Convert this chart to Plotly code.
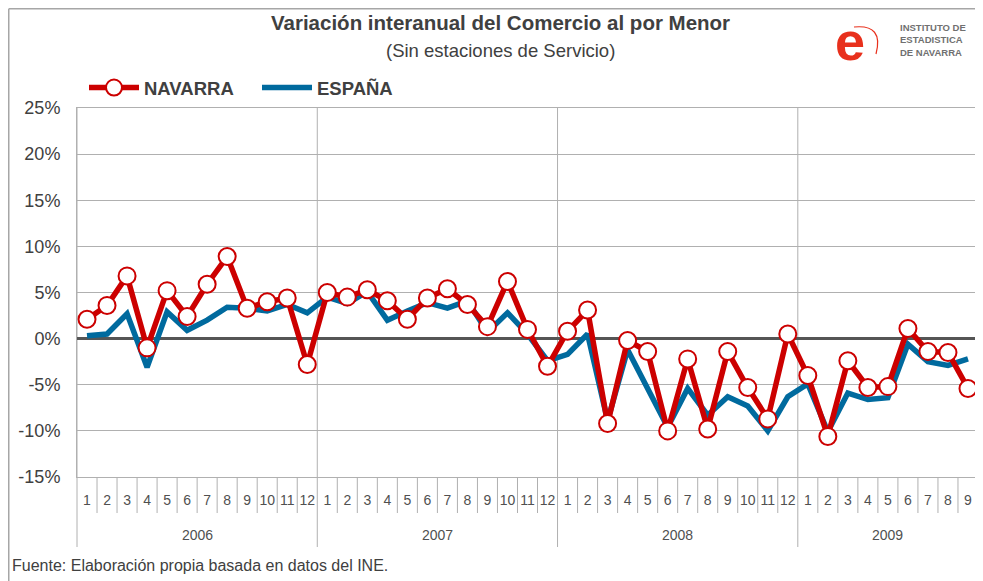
import plotly.graph_objects as go

YEARS = ["2006", "2007", "2008", "2009"]
MONTHS_PER_YEAR = [12, 12, 12, 9]

NAVARRA = [2.1, 3.6, 6.8, -1.0, 5.2, 2.4, 5.9, 8.9, 3.3, 4.0, 4.4, -2.8,
           5.0, 4.5, 5.3, 4.1, 2.1, 4.4, 5.4, 3.7, 1.3, 6.2, 1.0, -3.0,
           0.8, 3.1, -9.2, -0.2, -1.4, -10.0, -2.2, -9.8, -1.4, -5.3, -8.7, 0.5,
           -4.0, -10.6, -2.4, -5.3, -5.2, 1.1, -1.4, -1.5, -5.4]
ESPANA = [0.3, 0.5, 2.7, -3.1, 2.9, 0.9, 2.0, 3.4, 3.3, 3.0, 3.7, 2.8,
          4.5, 3.8, 5.1, 2.0, 3.0, 3.9, 3.3, 4.1, 0.7, 2.8, 0.5, -2.4,
          -1.7, 0.5, -8.9, -1.2, -5.4, -9.6, -5.4, -8.3, -6.3, -7.3, -10.0, -6.3,
          -4.9, -10.1, -5.9, -6.6, -6.4, -0.6, -2.5, -2.9, -2.2]
Y_TICKS = [-15, -10, -5, 0, 5, 10, 15, 20, 25]
Y_TICK_LABELS = ["-15%", "-10%", "-5%", "0%", "5%", "10%", "15%", "20%", "25%"]

TITLE = "Variación interanual del Comercio al por Menor"
SUBTITLE = "(Sin estaciones de Servicio)"
SOURCE = "Fuente: Elaboración propia basada en datos del INE."

categories, month_labels = [], []
for y, n in zip(YEARS, MONTHS_PER_YEAR):
    for m in range(1, n + 1):
        categories.append(f"{y}-{m}")
        month_labels.append(str(m))
n_total = len(categories)

# page offset (browser body margin)
OFF = 8
W, H = 983 - OFF, 581 - OFF
L, T = 77 - OFF, 108 - OFF
PR, PB = 978 - OFF, 477 - OFF
R, B = W - PR, H - PB
PW, PH = PR - L, PB - T


def px(x):
    return (x - OFF - L) / PW


def py(y):
    return (PB - (y - OFF)) / PH


FONT = "Liberation Sans, Arial, sans-serif"
TXT = "#404040"
GRID = "#b0b0b0"
LOGO_RED = "#e8301c"

fig = go.Figure()
fig.add_trace(go.Scatter(
    x=categories, y=ESPANA, name="ESPAÑA", mode="lines",
    line=dict(color="#006a9e", width=5.5)))
fig.add_trace(go.Scatter(
    x=categories, y=NAVARRA, name="NAVARRA", mode="lines+markers",
    line=dict(color="#cc0000", width=5.5),
    marker=dict(size=17, color="white", line=dict(color="#cc0000", width=2))))

shapes = []
annotations = []
bounds = [0]
for n in MONTHS_PER_YEAR:
    bounds.append(bounds[-1] + n)
# year dividers (through plot and label area)
for b in bounds:
    shapes.append(dict(type="line", xref="paper", yref="paper",
                       x0=b / n_total, x1=b / n_total, y0=py(547), y1=1,
                       line=dict(color=GRID, width=1), layer="below"))
# month separators
for i in range(1, n_total):
    if i in bounds:
        continue
    shapes.append(dict(type="line", xref="paper", yref="paper",
                       x0=i / n_total, x1=i / n_total, y0=0, y1=py(513),
                       line=dict(color=GRID, width=1)))
# year labels
for y, b0, b1 in zip(YEARS, bounds[:-1], bounds[1:]):
    annotations.append(dict(text=y, xref="paper", yref="paper",
                            x=(b0 + b1) / 2 / n_total, y=py(535),
                            showarrow=False, xanchor="center", yanchor="middle",
                            font=dict(family=FONT, size=14, color="#505050")))
# outer frame
shapes.append(dict(type="line", xref="paper", yref="paper",
                   x0=px(8.75), x1=px(8.75), y0=py(8.75), y1=py(600),
                   line=dict(color="#a6a6a6", width=1.5)))
shapes.append(dict(type="line", xref="paper", yref="paper",
                   x0=px(8.75), x1=px(1000), y0=py(8.75), y1=py(8.75),
                   line=dict(color="#a6a6a6", width=1.5)))
# logo swoosh
shapes.append(dict(type="path", xref="paper", yref="paper",
                   path=f"M {px(854)},{py(27)} Q {px(884)},{py(24)} {px(876)},{py(54)}",
                   line=dict(color=LOGO_RED, width=1.2)))

annotations += [
    dict(text="<b>" + TITLE + "</b>", xref="paper", yref="paper",
         x=px(500), y=py(23), showarrow=False, xanchor="center", yanchor="middle",
         font=dict(family=FONT, size=20.5, color=TXT)),
    dict(text=SUBTITLE, xref="paper", yref="paper",
         x=px(500), y=py(50), showarrow=False, xanchor="center", yanchor="middle",
         font=dict(family=FONT, size=18.5, color=TXT)),
    dict(text=SOURCE, xref="paper", yref="paper",
         x=px(10), y=py(565), showarrow=False, xanchor="left", yanchor="middle",
         font=dict(family=FONT, size=16, color=TXT)),
    dict(text="<b>e</b>", xref="paper", yref="paper",
         x=px(850), y=py(8.5), showarrow=False, xanchor="center", yanchor="top",
         font=dict(family=FONT, size=54, color=LOGO_RED)),
    dict(text="<b>INSTITUTO DE<br>ESTADISTICA<br>DE NAVARRA</b>", xref="paper", yref="paper",
         x=px(898), y=py(40), showarrow=False, xanchor="left", yanchor="middle",
         align="left", font=dict(family=FONT, size=9.5, color="#707070")),
]

fig.update_layout(
    width=W, height=H,
    margin=dict(l=L, r=R, t=T, b=B, autoexpand=False),
    paper_bgcolor="white", plot_bgcolor="white",
    font=dict(family=FONT, color=TXT),
    showlegend=True,
    legend=dict(orientation="h", x=px(84), y=py(88), xanchor="left", yanchor="middle",
                traceorder="reversed", itemwidth=50, entrywidth=108,
                entrywidthmode="pixels",
                font=dict(family=FONT, size=18.5, color=TXT, weight="bold"),
                bgcolor="rgba(0,0,0,0)"),
    shapes=shapes,
    annotations=annotations,
    xaxis=dict(type="category", categoryorder="array", categoryarray=categories,
               range=[-0.5, n_total - 0.5], autorange=False,
               automargin=False, showgrid=False, zeroline=False,
               showline=True, linecolor=GRID, linewidth=1, mirror=True,
               tickmode="array", tickvals=categories, ticktext=month_labels,
               ticks="outside", ticklen=10, tickcolor="rgba(0,0,0,0)", tickangle=0,
               tickfont=dict(family=FONT, size=14, color="#505050")),
    yaxis=dict(range=[-15, 25], autorange=False, automargin=False,
               tickmode="array", tickvals=Y_TICKS, ticktext=Y_TICK_LABELS,
               showgrid=True, gridcolor=GRID, gridwidth=1,
               zeroline=True, zerolinecolor="#555555", zerolinewidth=3,
               showline=True, linecolor=GRID, linewidth=1, mirror=True,
               ticks="outside", ticklen=12, tickcolor="rgba(0,0,0,0)",
               tickfont=dict(family=FONT, size=18, color=TXT)),
)

fig.write_html("out.html")
